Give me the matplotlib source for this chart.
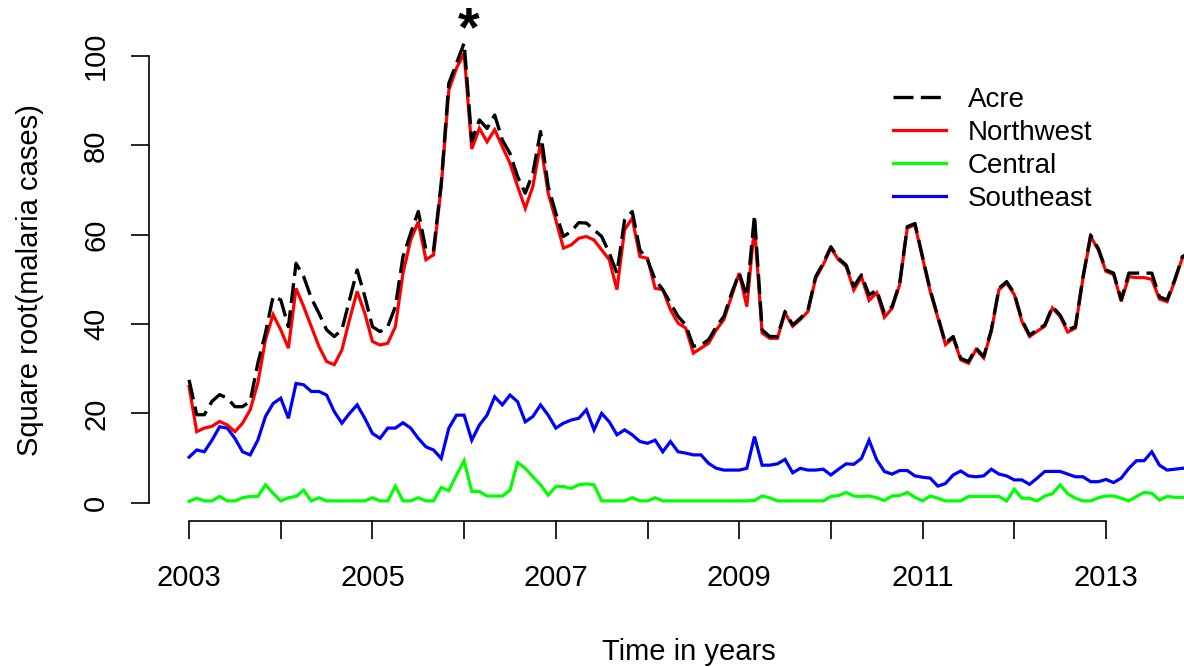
import numpy as np
import matplotlib
matplotlib.use("Agg")
import matplotlib.pyplot as plt

plt.rcParams['font.family'] = ['Liberation Sans', 'DejaVu Sans']

start_year = 2003
acre = [27.5, 19.7, 19.7, 22.7, 24.2, 23.4, 21.5, 21.5, 22.7, 31.2, 38.0, 46.2,
        45.4, 39.4, 53.6, 50.6, 45.8, 42.4, 38.7, 37.2, 38.7, 45.4, 52.1, 46.2,
        39.4, 38.3, 39.4, 43.9, 55.1, 60.3, 65.2, 56.6, 56.6, 71.5, 93.9, 98.4,
        102.9, 81.0, 85.7, 83.8, 86.8, 81.2, 78.2, 73.0, 69.3, 73.8, 83.1, 70.8,
        64.8, 59.6, 60.7, 62.7, 62.6, 61.1, 59.6, 55.9, 51.4, 63.3, 65.2, 56.6,
        54.4, 49.9, 47.7, 44.7, 41.7, 39.8, 35.0, 35.3, 36.5, 39.4, 41.7, 46.9,
        51.4, 46.2, 64.4, 38.7, 37.2, 37.2, 42.8, 39.8, 41.3, 43.1, 50.6, 53.6,
        57.3, 54.7, 53.2, 48.4, 51.0, 46.5, 47.6, 42.4, 43.9, 49.1, 61.8, 62.5,
        55.1, 47.6, 41.7, 35.7, 37.2, 32.3, 31.6, 34.6, 32.7, 38.7, 48.0, 49.5,
        46.9, 40.9, 37.5, 38.7, 39.8, 43.9, 42.0, 38.7, 39.4, 50.6, 59.9, 56.9,
        52.1, 51.4, 45.4, 51.4, 51.4, 51.4, 51.4, 46.1, 45.4, 49.9, 55.1, 56.0]
northwest = [26.0, 15.9, 16.7, 17.1, 18.2, 17.4, 15.9, 17.8, 20.8, 26.8, 36.5, 42.1,
             38.7, 34.6, 48.0, 43.9, 39.4, 35.0, 31.6, 30.9, 34.2, 41.0, 47.3, 42.4,
             36.1, 35.3, 35.7, 39.4, 51.4, 58.8, 62.9, 54.4, 55.5, 70.8, 92.4, 97.3,
             100.6, 79.2, 83.8, 80.8, 83.5, 79.7, 76.0, 70.8, 65.9, 70.8, 80.5, 69.3,
             63.3, 57.0, 57.7, 59.2, 59.6, 58.8, 56.6, 54.4, 47.7, 61.1, 63.7, 55.1,
             54.7, 48.0, 47.7, 43.2, 40.2, 39.1, 33.5, 34.6, 35.7, 38.7, 41.0, 46.2,
             51.4, 43.9, 62.0, 38.0, 36.8, 36.8, 42.5, 39.5, 41.0, 42.8, 50.2, 53.3,
             57.0, 54.4, 52.9, 47.6, 50.6, 45.3, 47.0, 41.5, 43.5, 48.8, 61.5, 62.2,
             54.8, 47.3, 41.4, 35.4, 36.9, 32.0, 31.2, 34.3, 32.4, 38.4, 47.7, 49.2,
             46.6, 40.6, 37.2, 38.4, 39.5, 43.6, 41.7, 38.2, 39.1, 50.3, 59.6, 56.6,
             51.8, 51.1, 45.1, 50.6, 50.4, 50.4, 50.0, 45.6, 45.0, 49.6, 54.8, 55.7]
central = [0.3, 1.0, 0.4, 0.4, 1.4, 0.4, 0.4, 1.1, 1.4, 1.4, 4.0, 2.1,
           0.4, 1.1, 1.4, 2.8, 0.4, 1.1, 0.4, 0.4, 0.4, 0.4, 0.4, 0.4,
           1.1, 0.4, 0.4, 3.7, 0.4, 0.4, 1.1, 0.4, 0.4, 3.4, 2.7, 6.2,
           9.4, 2.5, 2.5, 1.5, 1.5, 1.5, 2.8, 9.0, 7.7, 5.8, 4.0, 1.7,
           3.6, 3.6, 3.2, 4.0, 4.2, 4.0, 0.4, 0.4, 0.4, 0.4, 1.1, 0.4,
           0.4, 1.1, 0.4, 0.4, 0.4, 0.4, 0.4, 0.4, 0.4, 0.4, 0.4, 0.4,
           0.4, 0.4, 0.5, 1.5, 1.1, 0.4, 0.4, 0.4, 0.4, 0.4, 0.4, 0.4,
           1.4, 1.6, 2.3, 1.5, 1.4, 1.5, 1.1, 0.5, 1.5, 1.6, 2.3, 1.2,
           0.4, 1.5, 1.0, 0.4, 0.4, 0.4, 1.4, 1.4, 1.4, 1.4, 1.4, 0.4,
           3.0, 1.0, 1.0, 0.4, 1.5, 2.0, 4.0, 2.0, 1.0, 0.4, 0.4, 1.1,
           1.5, 1.5, 1.0, 0.4, 1.4, 2.3, 2.1, 0.6, 1.4, 1.2, 1.2, 1.2]
southeast = [10.2, 11.8, 11.4, 14.0, 17.0, 16.7, 14.4, 11.4, 10.7, 14.0, 19.3, 22.2,
             23.4, 18.9, 26.7, 26.4, 24.9, 24.9, 24.1, 20.4, 17.8, 20.0, 21.9, 18.9,
             15.5, 14.4, 16.7, 16.7, 17.9, 16.7, 14.4, 12.5, 11.8, 9.9, 16.7, 19.6,
             19.6, 14.0, 17.4, 19.6, 23.7, 21.9, 24.1, 22.6, 18.1, 19.3, 21.9, 19.6,
             16.7, 17.8, 18.5, 18.9, 20.8, 16.3, 20.0, 18.1, 15.2, 16.3, 15.2, 13.7,
             13.3, 14.0, 11.4, 13.7, 11.4, 11.1, 10.7, 10.7, 8.8, 7.7, 7.3, 7.3,
             7.3, 7.7, 14.8, 8.4, 8.4, 8.7, 9.7, 6.7, 7.7, 7.3, 7.3, 7.5,
             6.2, 7.5, 8.7, 8.6, 9.9, 14.0, 9.6, 7.0, 6.4, 7.2, 7.2, 6.0,
             5.7, 5.5, 3.7, 4.3, 6.2, 7.1, 6.0, 5.8, 6.0, 7.5, 6.4, 6.0,
             5.1, 5.1, 4.1, 5.5, 7.0, 7.0, 7.0, 6.4, 5.8, 5.8, 4.7, 4.7,
             5.2, 4.5, 5.5, 7.7, 9.4, 9.4, 11.4, 8.4, 7.3, 7.5, 7.7, 7.8]
series_labels = ["Acre", "Northwest", "Central", "Southeast"]
year_ticks = [2003, 2004, 2005, 2006, 2007, 2008, 2009, 2010, 2011, 2012, 2013]
year_labels = ["2003", "", "2005", "", "2007", "", "2009", "", "2011", "", "2013"]
y_ticks = [0, 20, 40, 60, 80, 100]

t = start_year + np.arange(len(acre)) / 12.0

fig = plt.figure(figsize=(11.84, 6.67), dpi=100)
ax = fig.add_axes([149 / 1184, (667 - 521) / 667, 1081 / 1184, 498 / 667])

l_c, = ax.plot(t, central, color='#00ff00', lw=2.3, solid_joinstyle='miter')
l_s, = ax.plot(t, southeast, color='#0000ff', lw=2.3, solid_joinstyle='miter')
l_n, = ax.plot(t, northwest, color='#ff0000', lw=2.3, solid_joinstyle='miter')
l_a, = ax.plot(t, acre, color='black', lw=2.4, dashes=(6, 2.2))

ax.set_xlim(2002.563, 2014.353)
ax.set_ylim(-4.1, 107.4)

for s in ['top', 'right']:
    ax.spines[s].set_visible(False)
ax.spines['left'].set_bounds(0, 100)
ax.spines['bottom'].set_bounds(2003, 2013)
for s in ['left', 'bottom']:
    ax.spines[s].set_linewidth(1.2)

ax.set_xticks(year_ticks)
ax.set_xticklabels(year_labels)
ax.set_yticks(y_ticks)
ax.set_yticklabels([str(v) for v in y_ticks], rotation=90, va='center')
ax.tick_params(axis='both', length=13, width=1.2, labelsize=21, color='black')
ax.tick_params(axis='x', pad=18)
ax.tick_params(axis='y', pad=15)

fig.text(689 / 1184, 1 - 652 / 667, "Time in years", ha='center', va='center', fontsize=21)
fig.text(30 / 1184, 1 - 280 / 667, "Square root(malaria cases)", ha='center', va='center',
         rotation=90, fontsize=21)

ax.text(2006.05, 105.5, "*", ha='center', va='center', fontsize=40, fontweight='bold')

leg = fig.legend([l_a, l_n, l_c, l_s], series_labels, loc='upper left',
                 bbox_to_anchor=(893 / 1184, 1 - 87 / 667), frameon=False,
                 fontsize=20, handlelength=1.9, handletextpad=0.8,
                 labelspacing=0.25, borderpad=0, borderaxespad=0)

fig.savefig("out.png", dpi=100)
